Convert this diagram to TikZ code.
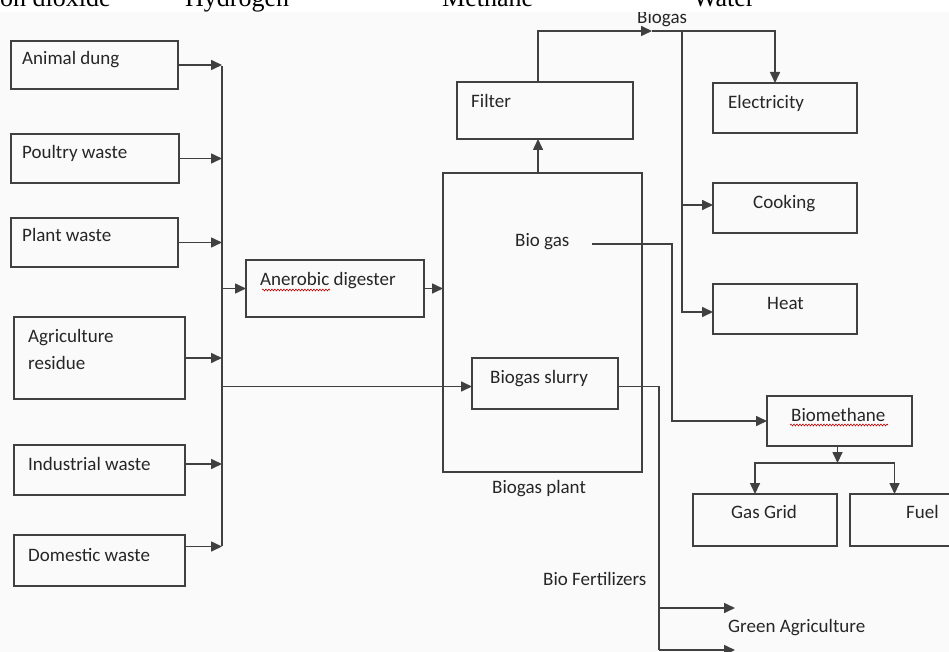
\documentclass[tikz,border=0pt]{standalone}
\usepackage{fontspec}
\setmainfont{Carlito}
\newfontfamily\timesf{Liberation Serif}
\usetikzlibrary{arrows.meta,decorations.pathmorphing,calc}
\definecolor{ln}{HTML}{404040}
\definecolor{tx}{HTML}{262626}
\begin{document}
\begin{tikzpicture}[x=1pt,y=-1pt,
 box/.style={draw=ln,line width=1.6pt,anchor=north west,inner sep=0pt,outer sep=0pt},
 lbl/.style={anchor=base west,inner sep=0pt,text=tx,font=\fontsize{19}{23}\selectfont},
 toptxt/.style={anchor=base west,inner sep=0pt,font=\timesf\fontsize{26}{30}\selectfont},
 wire/.style={draw=ln,line width=1.6pt},
 arr/.style={wire,-{Triangle[length=11pt,width=10pt]}},
 squig/.style={draw=red!75!black,line width=0.6pt,decorate,decoration={snake,amplitude=0.9pt,segment length=3pt}}]
\useasboundingbox (0,0) rectangle (949,652);
\clip (0,0) rectangle (949,652);
\fill[black!2] (0,12) rectangle (949,652);

% boxes
\node[box,minimum width=167pt,minimum height=48pt] (ad) at (11,41) {};
\node[box,minimum width=168pt,minimum height=49pt] (pw) at (11,134) {};
\node[box,minimum width=167pt,minimum height=49pt] (pl) at (11,218) {};
\node[box,minimum width=171pt,minimum height=82pt] (ar) at (14,317) {};
\node[box,minimum width=171pt,minimum height=50pt] (iw) at (14,445) {};
\node[box,minimum width=171pt,minimum height=51pt] (dw) at (14,535) {};
\node[box,minimum width=178pt,minimum height=57pt] (dig) at (246,260) {};
\node[box,minimum width=176pt,minimum height=57pt] (filter) at (457,82) {};
\node[box,minimum width=199pt,minimum height=299pt] (plant) at (443,173) {};
\node[box,minimum width=146pt,minimum height=51pt] (slurry) at (472,358) {};
\node[box,minimum width=144pt,minimum height=50pt] (elec) at (713,83) {};
\node[box,minimum width=144pt,minimum height=50pt] (cook) at (713,183) {};
\node[box,minimum width=144pt,minimum height=50pt] (heat) at (713,284) {};
\node[box,minimum width=145pt,minimum height=50pt] (biom) at (767,396) {};
\node[box,minimum width=144pt,minimum height=52pt] (grid) at (693,494) {};
\node[box,minimum width=115pt,minimum height=52pt] (fuel) at (850,494) {};

% texts
\node[lbl] (tad) at (22,65) {Animal dung};
\node[lbl] (tpw) at (22,159) {Poultry waste};
\node[lbl] (tpl) at (22,241) {Plant waste};
\node[lbl] (tar1) at (28,342) {Agriculture};
\node[lbl] (tar2) at (28,369) {residue};
\node[lbl] (tiw) at (28,470) {Industrial waste};
\node[lbl] (tdw) at (28,561) {Domestic waste};
\node[lbl] (tdig) at (260,285) {Anerobic digester};
\node[lbl] (tfil) at (471,108) {Filter};
\node[lbl] (tel) at (728,109) {Electricity};
\node[lbl] (tco) at (753,208) {Cooking};
\node[lbl] (the) at (767,309) {Heat};
\node[lbl] (tbg) at (515,246) {Bio gas};
\node[lbl] (tsl) at (490,383) {Biogas slurry};
\node[lbl] (tpt) at (492,493) {Biogas plant};
\node[lbl] (tbm) at (791,421) {Biomethane};
\node[lbl] (tgg) at (731,518) {Gas Grid};
\node[lbl] (tfu) at (906,518) {Fuel};
\node[lbl] (tbf) at (543,585) {Bio Fertilizers};
\node[lbl] (tga) at (728,632) {Green Agriculture};
\node[lbl] (tbgs) at (637,24) {Biogas};

\draw[squig] (262,290) -- (330,290);
\draw[squig] (790,425) -- (888,425);

% inputs bus
\coordinate (bus) at (222,66);
\coordinate (busb) at (222,546);
\draw[wire] (bus) -- (busb);
\draw[arr] (ad.east) -- (ad.east -| bus);
\draw[arr] (pw.east) -- (pw.east -| bus);
\draw[arr] (pl.east) -- (pl.east -| bus);
\draw[arr] (ar.east) -- (ar.east -| bus);
\draw[arr] ([yshift=6pt]iw.east) -- ([yshift=6pt]iw.east -| bus);
\draw[arr] ([yshift=14pt]dw.east) -- ([yshift=14pt]dw.east -| bus);
\draw[arr] (dig.west -| bus) -- (dig.west);
\draw[arr] ([yshift=-3pt]slurry.west -| bus) -- ([yshift=-3pt]slurry.west);
\draw[arr] (dig.east) -- (dig.east -| plant.west);

% gas path
\draw[arr] ([xshift=-7pt]filter.south |- plant.north) -- ([xshift=-7pt]filter.south);
\coordinate (gtip) at (652,31);
\coordinate (jn) at (682,31);
\draw[arr] ([xshift=-7pt]filter.north) |- (gtip);
\draw[arr] (gtip) -| ([xshift=-10pt]elec.north);
\draw[arr] (jn) |- ([yshift=-3pt]heat.west);
\draw[arr] ([yshift=3pt]cook.west -| jn) -- ([yshift=3pt]cook.west);

% bio gas to biomethane
\coordinate (bgs) at (592,244);
\coordinate (bgx) at (672,244);
\draw[arr] (bgs) -- (bgx) |- (biom.west);

% slurry to fertilizers
\coordinate (bfx) at (659,0);
\coordinate (ga1) at (735,608);
\coordinate (ga2) at (735,650);
\draw[wire] ([yshift=-3pt]slurry.east) -| (bfx |- ga2);
\draw[arr] (ga1 -| bfx) -- (ga1);
\draw[arr] (ga2 -| bfx) -- (ga2);

% biomethane split
\coordinate (bmj) at (838,463);
\draw[arr] ([xshift=-2pt]biom.south) -- ([xshift=-2pt]biom.south |- bmj);
\draw[arr] (bmj) -| ([xshift=-10pt]grid.north);
\draw[arr] (bmj) -| ([xshift=-13pt]fuel.north);

% top strip
\fill[white] (0,0) rectangle (949,12.5);
\node[toptxt] (t1) at (0,7) {on dioxide};
\node[toptxt] (t2) at (185,7) {Hydrogen};
\node[toptxt] (t3) at (442,7) {Methane};
\node[toptxt] (t4) at (693,7) {Water};
\end{tikzpicture}
\end{document}
